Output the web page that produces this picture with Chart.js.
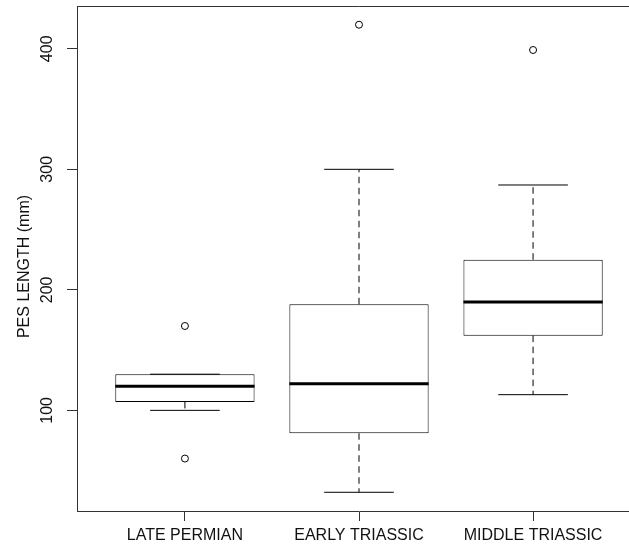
<!DOCTYPE html>
<html>
<head>
<meta charset="utf-8">
<script src="https://cdn.jsdelivr.net/npm/chart.js@4.4.1/dist/chart.umd.min.js"></script>
<style>
html, body { margin: 0; padding: 0; background: #fff; overflow: hidden; }
</style>
</head>
<body>
<canvas id="myCanvas" width="646" height="546"></canvas>
<script>
var categories = ['LATE PERMIAN', 'EARLY TRIASSIC', 'MIDDLE TRIASSIC'];
var whiskerLow = [100, 32, 113];
var lowerQuartile = [107, 81, 162];
var medians = [120, 122, 190];
var upperQuartile = [130, 188, 225];
var whiskerHigh = [130, 300, 287];
var outliers = [[170, 60], [420], [399]];
var yTicks = [100, 200, 300, 400];
var yTitle = 'PES LENGTH (mm)';

var LINE = '#000';
Chart.defaults.font.family = '"Liberation Sans", Arial, sans-serif';

// R style axis limits: 4% extension on both axes
var allValues = whiskerLow.concat(whiskerHigh, [].concat.apply([], outliers));
var lo = Math.min.apply(null, allValues);
var hi = Math.max.apply(null, allValues);
var ext = 0.04 * (hi - lo);
var xMin = 0.5 - 0.04 * categories.length;
var xMax = categories.length + 0.5 + 0.04 * categories.length;

function segment(x0, y0, x1, y1, width, dash, order) {
	return {
		data: [{x: x0, y: y0}, {x: x1, y: y1}],
		showLine: true,
		pointRadius: 0,
		borderColor: LINE,
		borderWidth: width,
		borderDash: dash,
		order: order
	};
}

var datasets = [];
datasets.push({
	type: 'bar',
	data: categories.map(function(c, i){ return {x: i + 1, y: [lowerQuartile[i], upperQuartile[i]]}; }),
	backgroundColor: '#fff',
	borderColor: LINE,
	borderWidth: 1,
	borderSkipped: false,
	barPercentage: 0.8,
	categoryPercentage: 1,
	order: 5
});
for (var i = 0; i < categories.length; i++) {
	var x = i + 1;
	datasets.push(segment(x, upperQuartile[i], x, whiskerHigh[i], 1, [6.5, 4.5], 4));
	datasets.push(segment(x, lowerQuartile[i], x, whiskerLow[i], 1, [6.5, 4.5], 4));
	datasets.push(segment(x - 0.2, whiskerHigh[i], x + 0.2, whiskerHigh[i], 1, [], 3));
	datasets.push(segment(x - 0.2, whiskerLow[i], x + 0.2, whiskerLow[i], 1, [], 3));
	datasets.push(segment(x - 0.4, medians[i], x + 0.4, medians[i], 3, [], 1));
}
var outlierPoints = [];
outliers.forEach(function(arr, i){
	arr.forEach(function(v){ outlierPoints.push({x: i + 1, y: v}); });
});
datasets.push({
	data: outlierPoints,
	pointRadius: 3.5,
	pointBorderWidth: 1,
	pointBackgroundColor: 'rgba(0,0,0,0)',
	pointBorderColor: LINE,
	order: 0
});

var frameAndTitle = {
	id: 'frameAndTitle',
	afterDraw: function(chart) {
		var ctx = chart.ctx, a = chart.chartArea;
		ctx.save();
		ctx.strokeStyle = '#333';
		ctx.lineWidth = 1;
		ctx.beginPath();
		ctx.moveTo(a.left, a.top + 0.5);
		ctx.lineTo(a.right - 0.5, a.top + 0.5);
		ctx.lineTo(a.right - 0.5, a.bottom);
		ctx.stroke();
		ctx.translate(25, (a.top + a.bottom) / 2 + 8);
		ctx.rotate(-Math.PI / 2);
		ctx.font = '16px "Liberation Sans", Arial, sans-serif';
		ctx.textAlign = 'center';
		ctx.textBaseline = 'middle';
		ctx.fillStyle = '#111';
		ctx.fillText(yTitle, 0, 0);
		ctx.restore();
	}
};

var ctx = document.getElementById('myCanvas');
var boxGraph = new Chart(ctx, {
	type: 'scatter',
	data: {datasets: datasets},
	plugins: [frameAndTitle],
	options: {
		responsive: false,
		animation: false,
		events: [],
		layout: {padding: {top: 6, left: 0, right: 0, bottom: 0}},
		plugins: {legend: {display: false}, tooltip: {enabled: false}},
		scales: {
			x: {
				type: 'linear',
				offset: false,
				min: xMin,
				max: xMax,
				afterBuildTicks: function(s){ s.ticks = categories.map(function(c, i){ return {value: i + 1}; }); },
				afterFit: function(s){ s.height = 35; s.paddingLeft = 0; s.paddingRight = 0; },
				grid: {offset: false, drawOnChartArea: false, drawTicks: true, tickLength: 10, color: '#333'},
				border: {display: true, color: '#333'},
				ticks: {
					autoSkip: false, maxRotation: 0, padding: 5, color: '#111', font: {size: 16},
					callback: function(v, idx){ return categories[idx]; }
				}
			},
			y: {
				type: 'linear',
				min: lo - ext,
				max: hi + ext,
				afterBuildTicks: function(s){ s.ticks = yTicks.map(function(v){ return {value: v}; }); },
				afterFit: function(s){ s.width = 77; s.paddingTop = 0; s.paddingBottom = 0; },
				grid: {drawOnChartArea: false, drawTicks: true, tickLength: 10, color: '#333'},
				border: {display: true, color: '#333'},
				ticks: {
					minRotation: 90, maxRotation: 90, crossAlign: 'center', padding: 6,
					color: '#111', font: {size: 16}
				}
			}
		}
	}
});
</script>
</body>
</html>
